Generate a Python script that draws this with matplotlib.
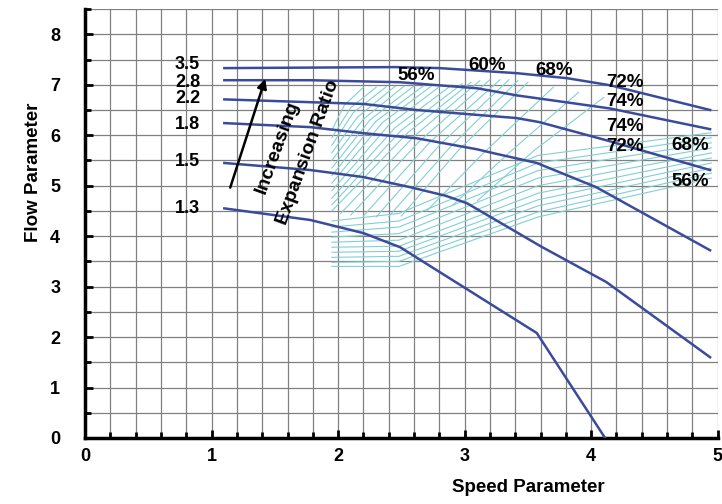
import numpy as np
import matplotlib
matplotlib.use('Agg')
import matplotlib.pyplot as plt

plt.rcParams['font.family'] = ['Liberation Sans', 'DejaVu Sans']
plt.rcParams['font.weight'] = 'bold'

# constant expansion ratio lines (speed, flow)
ratio_labels = ['3.5', '2.8', '2.2', '1.8', '1.5', '1.3']
ratio_label_y = [7.40, 7.05, 6.72, 6.22, 5.47, 4.55]

r35_x = [1.10, 2.45, 2.80, 3.41, 3.81, 4.15, 4.94]
r35_y = [7.33, 7.35, 7.33, 7.23, 7.13, 6.99, 6.50]
r28_x = [1.10, 1.78, 2.49, 3.10, 3.41, 3.81, 4.15, 4.94]
r28_y = [7.09, 7.09, 7.05, 6.93, 6.79, 6.65, 6.53, 6.12]
r22_x = [1.10, 2.20, 2.62, 3.41, 3.59, 4.12, 4.94]
r22_y = [6.71, 6.62, 6.50, 6.34, 6.26, 5.90, 5.31]
r18_x = [1.10, 1.78, 2.20, 2.62, 3.10, 3.20, 3.57, 4.04, 4.94]
r18_y = [6.24, 6.16, 6.04, 5.94, 5.72, 5.66, 5.45, 4.97, 3.72]
r15_x = [1.10, 1.78, 2.20, 2.57, 2.85, 3.02, 3.60, 4.12, 4.94]
r15_y = [5.45, 5.31, 5.17, 4.97, 4.80, 4.65, 3.80, 3.09, 1.60]
r13_x = [1.10, 1.78, 2.20, 2.49, 3.57, 4.11]
r13_y = [4.55, 4.32, 4.06, 3.78, 2.08, 0.0]

# efficiency contours, upper group
eff_up_x = [
    [1.95, 2.05, 2.20], [1.95, 2.10, 2.30], [1.95, 2.12, 2.38],
    [1.95, 2.15, 2.45], [1.95, 2.20, 2.52], [1.95, 2.25, 2.60],
    [1.95, 2.30, 2.68], [1.95, 2.35, 2.75], [1.95, 2.40, 2.82],
    [1.95, 2.45, 2.90], [1.95, 2.50, 2.98], [1.95, 2.55, 3.05],
    [2.02, 2.60, 3.12], [2.10, 2.65, 3.20], [2.20, 2.72, 3.28],
    [2.30, 2.80, 3.35], [2.40, 2.88, 3.42], [2.50, 2.95, 3.50],
    [2.70, 3.15, 3.70], [2.90, 3.35, 3.90], [3.10, 3.55, 4.10],
]
eff_up_y = [
    [6.10, 6.60, 6.95], [5.95, 6.55, 6.95], [5.80, 6.45, 6.96],
    [5.65, 6.35, 6.97], [5.50, 6.32, 6.97], [5.35, 6.30, 6.98],
    [5.20, 6.28, 6.99], [5.05, 6.25, 7.00], [4.90, 6.20, 7.00],
    [4.75, 6.15, 7.00], [4.62, 6.10, 7.02], [4.50, 6.05, 7.05],
    [4.45, 5.98, 7.08], [4.42, 5.90, 7.10], [4.40, 5.85, 7.10],
    [4.38, 5.80, 7.10], [4.39, 5.75, 7.08], [4.40, 5.70, 7.05],
    [4.50, 5.65, 6.95], [4.60, 5.65, 6.85], [4.70, 5.70, 6.75],
]
# efficiency contours, lower group
eff_lo_x = [1.95, 2.48, 3.58, 4.95]
eff_lo_y = [
    [4.30, 4.45, 5.60, 6.05], [4.18, 4.30, 5.45, 5.95],
    [4.08, 4.18, 5.30, 5.85], [3.98, 4.05, 5.15, 5.75],
    [3.88, 3.92, 5.00, 5.65], [3.78, 3.80, 4.85, 5.55],
    [3.68, 3.70, 4.72, 5.45], [3.58, 3.60, 4.60, 5.35],
    [3.48, 3.50, 4.48, 5.25], [3.40, 3.40, 4.38, 5.15],
]

eff_labels = ['56%', '60%', '68%', '72%', '74%', '74%', '72%', '68%', '56%']
eff_label_x = [2.62, 3.18, 3.71, 4.27, 4.27, 4.27, 4.27, 4.78, 4.78]
eff_label_y = [7.19, 7.39, 7.29, 7.05, 6.67, 6.18, 5.78, 5.80, 5.09]

fig = plt.figure(figsize=(7.22, 5.04), dpi=100)
ax = fig.add_axes([0.118, 0.131, 0.876, 0.851])

blue = '#3b4b9c'
cyan = '#7fd0d6'

for xs, ys in zip(eff_up_x, eff_up_y):
    ax.plot(xs, ys, color=cyan, lw=0.8, zorder=2)
for ys in eff_lo_y:
    ax.plot(eff_lo_x, ys, color=cyan, lw=0.8, zorder=2)

for xs, ys in [(r35_x, r35_y), (r28_x, r28_y), (r22_x, r22_y),
               (r18_x, r18_y), (r15_x, r15_y), (r13_x, r13_y)]:
    ax.plot(xs, ys, color=blue, lw=1.8, zorder=3)

for lab, yy in zip(ratio_labels, ratio_label_y):
    ax.text(0.81, yy, lab, ha='center', va='center', fontsize=13, fontweight='bold')

for lab, xx, yy in zip(eff_labels, eff_label_x, eff_label_y):
    ax.text(xx, yy, lab, ha='center', va='center', fontsize=13.5, fontweight='bold', zorder=4)

ax.annotate('', xy=(1.43, 7.17), xytext=(1.14, 4.91),
            arrowprops=dict(arrowstyle='-|>', color='black', lw=1.8, mutation_scale=14))
ax.text(1.52, 5.76, 'Increasing', rotation=70, ha='center', va='center',
        fontsize=14, fontweight='bold')
ax.text(1.76, 5.66, 'Expansion Ratio', rotation=70, ha='center', va='center',
        fontsize=14, fontweight='bold')

ax.set_xlim(0, 5)
ax.set_ylim(0, 8.5)
ax.set_xticks(np.arange(0, 6, 1))
ax.set_xticks(np.arange(0, 5.01, 0.2), minor=True)
ax.set_yticks(np.arange(0, 9, 1))
ax.set_yticks(np.arange(0, 8.51, 0.5), minor=True)
ax.grid(which='both', color='#808080', lw=0.9, zorder=1)
ax.set_axisbelow(True)
ax.tick_params(which='both', direction='in', width=2)
ax.tick_params(which='major', length=6, labelsize=13)
ax.tick_params(axis='x', which='major', pad=7)
ax.tick_params(axis='y', which='major', pad=18)
ax.tick_params(which='minor', length=4)
for lab in ax.get_xticklabels() + ax.get_yticklabels():
    lab.set_fontweight('bold')
ax.spines['top'].set_visible(False)
ax.spines['right'].set_visible(False)
ax.spines['left'].set_linewidth(2.5)
ax.spines['bottom'].set_linewidth(2.5)

ax.set_xlabel('Speed Parameter', fontsize=13.5, fontweight='bold', labelpad=10, x=0.70)
ax.set_ylabel('Flow Parameter', fontsize=13.5, fontweight='bold', labelpad=6, y=0.62)

fig.savefig('out.png', dpi=100)
